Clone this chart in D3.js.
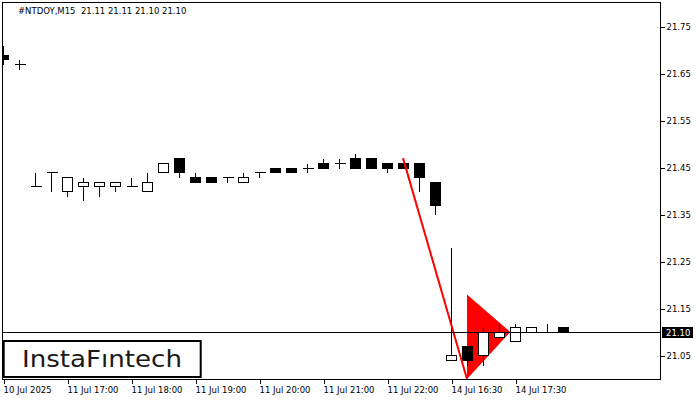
<!DOCTYPE html>
<html>
<head>
<meta charset="utf-8">
<script src="https://cdn.jsdelivr.net/npm/d3@7"></script>
<style>
  html, body { margin: 0; padding: 0; background: #fff; }
  svg { display: block; }
  text { font-family: "DejaVu Sans", Verdana, sans-serif; }
</style>
</head>
<body>
<svg id="chart" width="700" height="400"></svg>
<script>
// ---- data ----
const headerText = "#NTDOY,M15  21.11 21.11 21.10 21.10";
const openP  = [21.69,21.67,21.41,21.44,21.40,21.41,21.41,21.41,21.41,21.40,21.44,21.47,21.43,21.43,21.43,21.42,21.44,21.45,21.45,21.45,21.46,21.46,21.47,21.47,21.46,21.46,21.46,21.42,21.04,21.07,21.05,21.09,21.08,21.10,21.10,21.11];
const highP  = [21.71,21.68,21.44,21.44,21.43,21.43,21.42,21.42,21.43,21.44,21.46,21.47,21.44,21.43,21.43,21.44,21.44,21.45,21.45,21.46,21.47,21.47,21.48,21.47,21.46,21.46,21.46,21.42,21.28,21.07,21.11,21.12,21.12,21.11,21.12,21.11];
const lowP   = [21.67,21.66,21.41,21.40,21.39,21.38,21.39,21.40,21.41,21.40,21.44,21.43,21.42,21.42,21.42,21.42,21.43,21.44,21.44,21.44,21.45,21.45,21.45,21.45,21.44,21.45,21.40,21.35,21.04,21.03,21.03,21.09,21.08,21.10,21.10,21.10];
const closeP = [21.68,21.67,21.41,21.44,21.43,21.42,21.42,21.42,21.41,21.42,21.46,21.44,21.42,21.42,21.43,21.43,21.44,21.44,21.44,21.45,21.45,21.46,21.45,21.45,21.45,21.45,21.43,21.37,21.05,21.04,21.10,21.10,21.11,21.11,21.10,21.10];
const xTickIndex  = [0,4,8,12,16,20,24,28,32];
const xTickLabels = ["10 Jul 2025","11 Jul 17:00","11 Jul 18:00","11 Jul 19:00","11 Jul 20:00","11 Jul 21:00","11 Jul 22:00","14 Jul 16:30","14 Jul 17:30"];
const yTickValues = [21.05,21.15,21.25,21.35,21.45,21.55,21.65,21.75];
const currentPrice = 21.10;
const patternLineIdx   = [25, 29];
const patternLinePrice = [21.47, 21.00];
const triangleIdx   = [29, 31.7, 29];
const trianglePrice = [21.18, 21.10, 21.00];
const logoText = "InstaF\u0131ntech";

// ---- layout ----
const svg = d3.select("#chart");
const plot = {left: 2, top: 2, right: 660, bottom: 379};
const x = d3.scaleLinear().domain([0, 35]).range([3, 563]);
const y = d3.scaleLinear().domain([21.0, 21.8]).range([379, 3]);

svg.append("defs").append("clipPath").attr("id", "clip")
  .append("rect").attr("x", plot.left).attr("y", plot.top)
  .attr("width", plot.right - plot.left).attr("height", plot.bottom - plot.top);

const g = svg.append("g").attr("clip-path", "url(#clip)");

// triangle (pattern)
const triPts = triangleIdx.map((d, i) => [x(d), y(trianglePrice[i])]);
g.append("path")
  .attr("d", d3.line()(triPts) + "Z")
  .attr("fill", "#ff0000");

// candles
const data = openP.map((o, i) => ({i, o, h: highP[i], l: lowP[i], c: closeP[i]}));
const cg = g.append("g").attr("shape-rendering", "crispEdges");
data.forEach(d => {
  const cx = Math.round(x(d.i)) + 0.5;
  cg.append("line")
    .attr("x1", cx).attr("x2", cx)
    .attr("y1", Math.round(y(d.h)) + 0.5).attr("y2", Math.round(y(d.l)) + 0.5)
    .attr("stroke", "#000").attr("stroke-width", 1);
  const yTop = Math.round(y(Math.max(d.o, d.c))) + 0.5;
  const yBot = Math.round(y(Math.min(d.o, d.c))) + 0.5;
  if (d.o === d.c) {
    cg.append("line")
      .attr("x1", cx - 5).attr("x2", cx + 6)
      .attr("y1", yTop).attr("y2", yTop)
      .attr("stroke", "#000");
  } else {
    cg.append("rect")
      .attr("x", cx - 5).attr("y", yTop)
      .attr("width", 10).attr("height", yBot - yTop)
      .attr("fill", d.c > d.o ? "#fff" : "#000")
      .attr("stroke", "#000").attr("stroke-width", 1);
  }
});

// red pattern line
g.append("line")
  .attr("x1", x(patternLineIdx[0])).attr("y1", y(patternLinePrice[0]))
  .attr("x2", x(patternLineIdx[1])).attr("y2", y(patternLinePrice[1]))
  .attr("stroke", "#ff0000").attr("stroke-width", 2);

// current price line
const py = Math.round(y(currentPrice)) + 0.5;
svg.append("line")
  .attr("x1", plot.left).attr("x2", plot.right)
  .attr("y1", py).attr("y2", py)
  .attr("stroke", "#000").attr("stroke-width", 1)
  .attr("shape-rendering", "crispEdges");

// frame
svg.append("rect")
  .attr("x", plot.left + 0.5).attr("y", plot.top + 0.5)
  .attr("width", plot.right - plot.left).attr("height", plot.bottom - plot.top)
  .attr("fill", "none").attr("stroke", "#000").attr("stroke-width", 1)
  .attr("shape-rendering", "crispEdges");

// y axis (right)
const yAxis = d3.axisRight(y).tickValues(yTickValues).tickSize(4).tickPadding(2)
  .tickFormat(d3.format(".2f"));
const ya = svg.append("g").attr("transform", `translate(${plot.right + 0.5},0)`).call(yAxis);
ya.select(".domain").remove();
ya.selectAll("line").attr("stroke", "#000").attr("shape-rendering", "crispEdges");
ya.selectAll("text").attr("font-family", "DejaVu Sans").attr("font-size", "8.5px").attr("fill", "#000");

// x axis (bottom)
const xAxis = d3.axisBottom(x).tickValues(xTickIndex).tickSize(4).tickPadding(3)
  .tickFormat((d, i) => xTickLabels[i]);
const xa = svg.append("g").attr("transform", `translate(0.5,${plot.bottom + 0.5})`).call(xAxis);
xa.select(".domain").remove();
xa.selectAll("line").attr("stroke", "#000").attr("shape-rendering", "crispEdges");
xa.selectAll("text").attr("font-family", "DejaVu Sans").attr("font-size", "8.5px")
  .attr("fill", "#000").attr("text-anchor", "start").attr("dx", "-0.5");

// price label
svg.append("rect").attr("x", 662).attr("y", py - 5.5).attr("width", 31).attr("height", 11)
  .attr("fill", "#000");
svg.append("text").attr("x", 666).attr("y", py + 3.5)
  .attr("font-size", "8.5px").attr("fill", "#fff").text(d3.format(".2f")(currentPrice));

// header
svg.append("text").attr("x", 18).attr("y", 14)
  .attr("font-size", "8.5px").attr("fill", "#000")
  .style("white-space", "pre").text(headerText);

// logo
svg.append("rect").attr("x", 3.7).attr("y", 341).attr("width", 197).attr("height", 36)
  .attr("fill", "#fff").attr("stroke", "#000").attr("stroke-width", 2);
svg.append("text").attr("x", 22).attr("y", 367)
  .attr("font-family", "Inter, 'Noto Sans', sans-serif").attr("font-weight", 500)
  .attr("font-size", "23px").attr("fill", "#1a1a1a")
  .attr("textLength", 160).attr("lengthAdjust", "spacingAndGlyphs")
  .text(logoText);
</script>
</body>
</html>
